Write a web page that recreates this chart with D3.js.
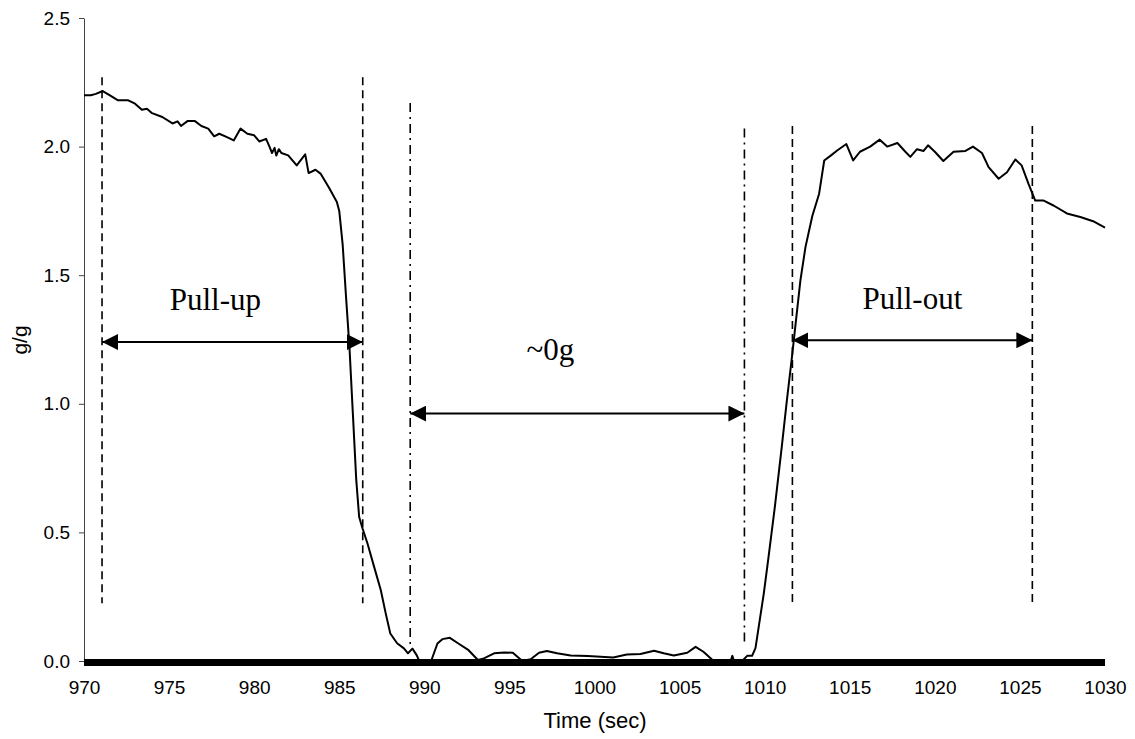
<!DOCTYPE html>
<html>
<head>
<meta charset="utf-8">
<script src="https://cdn.jsdelivr.net/npm/d3@7/dist/d3.min.js"></script>
<style>
  body { margin: 0; background: #fff; }
  .tick text { font-family: "Liberation Sans", Arial, sans-serif; }
</style>
</head>
<body>
<svg id="chart" width="1135" height="739"></svg>
<script>
// load factor trace (sec, g/g)
const time = [970.0, 970.4, 970.7, 971.1, 971.5, 972.0, 972.6, 973.0, 973.4, 973.7,
  974.0, 974.6, 975.2, 975.5, 975.7, 976.1, 976.5, 976.9, 977.3, 977.65,
  977.95, 978.4, 978.8, 979.2, 979.6, 980.0, 980.3, 980.7, 980.9, 981.05,
  981.2, 981.3, 981.45, 981.6, 982.0, 982.5, 983.0, 983.2, 983.6, 983.9,
  984.4, 984.86, 985.0, 985.2, 985.4, 985.6, 985.8, 986.0, 986.17, 986.37,
  986.66, 987.05, 987.44, 987.73, 988.0, 988.4, 988.8, 989.04, 989.3, 989.55,
  989.7, 990.4, 990.77, 991.06, 991.5, 992.0, 992.6, 993.15, 993.5, 994.1,
  994.7, 995.2, 995.76, 996.25, 996.74, 997.2, 997.8, 998.6, 999.6, 1000.36,
  1001.1, 1001.9, 1002.7, 1003.5, 1004.07, 1004.66, 1005.45, 1005.94, 1006.4, 1007.0,
  1008.0, 1008.1, 1008.2, 1008.68, 1008.97, 1009.26, 1009.46, 1009.65, 1009.95, 1010.2,
  1010.6, 1011.0, 1011.3, 1011.6, 1011.8, 1012.1, 1012.4, 1012.8, 1013.2, 1013.5,
  1013.9, 1014.26, 1014.8, 1015.2, 1015.6, 1016.2, 1016.76, 1017.2, 1017.8, 1018.27,
  1018.56, 1018.95, 1019.34, 1019.6, 1020.0, 1020.5, 1021.1, 1021.8, 1022.24, 1022.77,
  1023.16, 1023.75, 1024.24, 1024.73, 1025.1, 1025.5, 1025.9, 1026.4, 1027.0, 1027.76,
  1028.55, 1029.3, 1030.0];
const load = [2.20, 2.20, 2.205, 2.216, 2.20, 2.18, 2.18, 2.167, 2.143, 2.147,
  2.13, 2.115, 2.09, 2.098, 2.08, 2.10, 2.10, 2.08, 2.07, 2.04,
  2.05, 2.037, 2.024, 2.07, 2.05, 2.044, 2.02, 2.03, 2.00, 1.975,
  1.995, 1.965, 1.99, 1.975, 1.966, 1.927, 1.97, 1.897, 1.91, 1.895,
  1.84, 1.785, 1.75, 1.62, 1.415, 1.22, 0.962, 0.703, 0.56, 0.515,
  0.457, 0.366, 0.276, 0.185, 0.107, 0.069, 0.049, 0.03, 0.048, 0.023,
  0.0, 0.0, 0.068, 0.085, 0.09, 0.068, 0.042, 0.004, 0.01, 0.03,
  0.033, 0.032, 0.0, 0.007, 0.032, 0.039, 0.03, 0.021, 0.019, 0.017,
  0.014, 0.025, 0.027, 0.04, 0.03, 0.021, 0.032, 0.055, 0.036, 0.0,
  0.0, 0.02, 0.0, 0.0, 0.02, 0.02, 0.05, 0.133, 0.263, 0.39,
  0.60, 0.83, 1.01, 1.18, 1.30, 1.48, 1.61, 1.73, 1.817, 1.946,
  1.966, 1.985, 2.01, 1.946, 1.98, 2.0, 2.027, 2.0, 2.014, 1.98,
  1.96, 1.99, 1.983, 2.005, 1.98, 1.944, 1.98, 1.983, 2.0, 1.975,
  1.92, 1.875, 1.90, 1.95, 1.927, 1.856, 1.79, 1.79, 1.77, 1.74,
  1.726, 1.71, 1.685];

// manoeuvre phases
const phaseNames = ["Pull-up", "~0g", "Pull-out"];
const phaseStart = [971.06, 989.17, 1011.63];
const phaseEnd = [986.38, 1008.81, 1025.73];
const arrowLevel = [1.24, 0.962, 1.247];
// extent of the boundary lines (g/g), start line then end line
const startTop = [2.27, 2.17, 2.08];
const startBottom = [0.225, 0.062, 0.213];
const endTop = [2.27, 2.07, 2.08];
const endBottom = [0.225, 0.058, 0.21];

const xTicks = [970, 975, 980, 985, 990, 995, 1000, 1005, 1010, 1015, 1020, 1025, 1030];
const yTicks = [0, 0.5, 1.0, 1.5, 2.0, 2.5];

const svg = d3.select("#chart");
const x = d3.scaleLinear().domain([970, 1030]).range([84, 1105]);
const y = d3.scaleLinear().domain([0, 2.5]).range([661, 18]);

// y axis
const yAxis = svg.append("g")
  .attr("transform", "translate(" + x(970) + ",0)")
  .call(d3.axisLeft(y).tickValues(yTicks).tickFormat(d3.format(".1f"))
    .tickSize(5).tickSizeOuter(0).tickPadding(9));
yAxis.select(".domain").attr("stroke", "#444");
yAxis.selectAll(".tick line").attr("stroke", "#444");
yAxis.selectAll(".tick text").attr("font-size", 19).attr("fill", "#000");

// x axis (labels only, the heavy baseline is drawn below)
const xAxis = svg.append("g")
  .attr("transform", "translate(0," + y(0) + ")")
  .call(d3.axisBottom(x).tickValues(xTicks).tickFormat(d3.format("d"))
    .tickSize(0).tickPadding(20));
xAxis.select(".domain").remove();
xAxis.selectAll(".tick text").attr("font-size", 19).attr("fill", "#000");

svg.append("text")
  .attr("x", 595).attr("y", 728)
  .attr("text-anchor", "middle")
  .attr("font-family", "Liberation Sans, Arial, sans-serif")
  .attr("font-size", 22)
  .text("Time (sec)");

svg.append("text")
  .attr("transform", "translate(27,340) rotate(-90)")
  .attr("text-anchor", "middle")
  .attr("font-family", "Liberation Sans, Arial, sans-serif")
  .attr("font-size", 21)
  .text("g/g");

// trace
const pts = time.map((t, i) => [t, load[i]]);
const line = d3.line().x(d => x(d[0])).y(d => y(d[1]));
svg.append("path")
  .attr("d", line(pts))
  .attr("fill", "none")
  .attr("stroke", "#000")
  .attr("stroke-width", 2)
  .attr("stroke-linejoin", "round");

// heavy zero line
svg.append("line")
  .attr("x1", x(970)).attr("x2", x(1030))
  .attr("y1", y(0) + 1.5).attr("y2", y(0) + 1.5)
  .attr("stroke", "#000")
  .attr("stroke-width", 7);

// phase markers
const DASH = ["8,5", "9,5,2,5", "8,5"];
const LABEL_DX = [-17, -27, 0];
const LABEL_DY = [-32, -54, -31];

svg.append("defs").append("marker")
  .attr("id", "head")
  .attr("viewBox", "0 0 16 16")
  .attr("refX", 16).attr("refY", 8)
  .attr("markerWidth", 16).attr("markerHeight", 16)
  .attr("markerUnits", "userSpaceOnUse")
  .attr("orient", "auto-start-reverse")
  .append("path")
    .attr("d", "M0,0L16,8L0,16Z")
    .attr("fill", "#000");

phaseNames.forEach((name, i) => {
  const g = svg.append("g").attr("class", "phase");
  [[phaseStart[i], startTop[i], startBottom[i]], [phaseEnd[i], endTop[i], endBottom[i]]]
    .forEach(b => {
      g.append("line")
        .attr("x1", x(b[0])).attr("x2", x(b[0]))
        .attr("y1", y(b[1])).attr("y2", y(b[2]))
        .attr("stroke", "#000")
        .attr("stroke-width", 1.6)
        .attr("stroke-dasharray", DASH[i]);
    });

  g.append("line")
    .attr("x1", x(phaseStart[i])).attr("x2", x(phaseEnd[i]))
    .attr("y1", y(arrowLevel[i])).attr("y2", y(arrowLevel[i]))
    .attr("stroke", "#000")
    .attr("stroke-width", 2)
    .attr("marker-start", "url(#head)")
    .attr("marker-end", "url(#head)");

  g.append("text")
    .attr("x", (x(phaseStart[i]) + x(phaseEnd[i])) / 2 + LABEL_DX[i])
    .attr("y", y(arrowLevel[i]) + LABEL_DY[i])
    .attr("text-anchor", "middle")
    .attr("font-family", "Liberation Serif, Times New Roman, serif")
    .attr("font-size", 31)
    .text(name);
});
</script>
</body>
</html>
